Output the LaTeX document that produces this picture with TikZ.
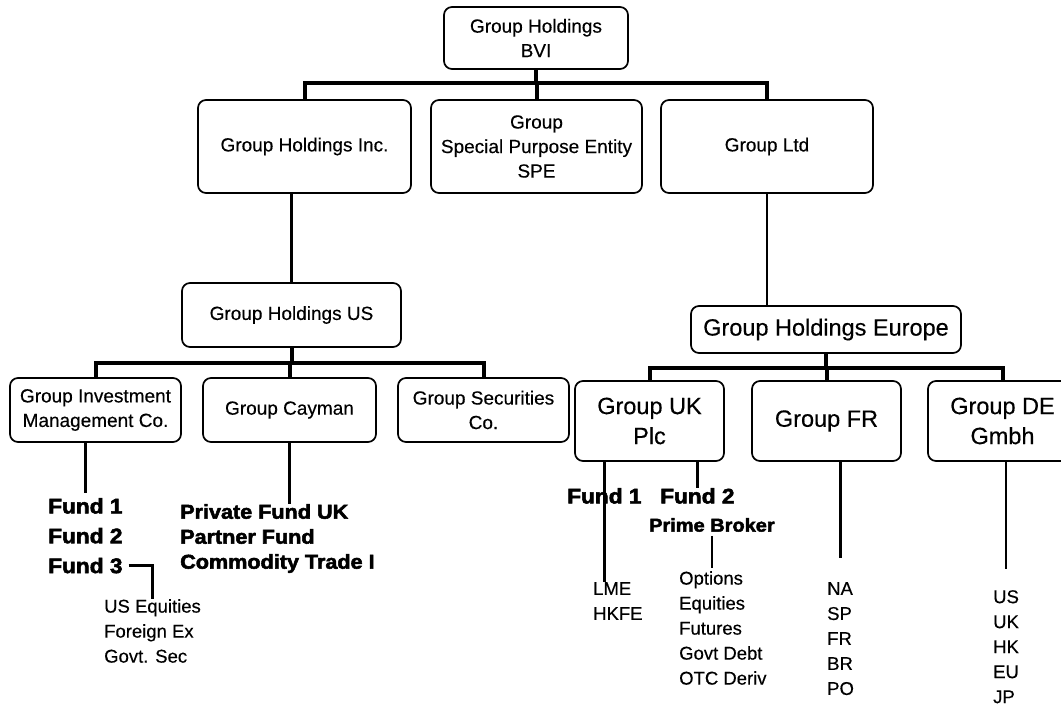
\documentclass[tikz,border=0pt]{standalone}
\usepackage{fontspec}
\setmainfont{Liberation Sans}[FakeBold=0.35]
\newfontfamily\heavyfont{Liberation Sans Bold}[FakeBold=2.6, FakeStretch=1.08]
\usetikzlibrary{positioning}
\newcommand{\setsz}[2]{\fontsize{#1}{#2}\selectfont}

\begin{document}
\begin{tikzpicture}[
  x=1pt, y=-1pt,
  ent/.style={rectangle, rounded corners=8pt, draw, line width=1.7pt,
              inner sep=0pt, outer sep=0pt, align=center,
              font=\setsz{19}{24.5}},
  bigent/.style={ent, font=\setsz{23.5}{30}},
  heavy/.style={inner sep=0pt, anchor=north west, align=left,
                font=\heavyfont\setsz{21}{29}},
  list/.style={inner sep=0pt, anchor=north west, align=left,
               font=\setsz{18.5}{25}},
  trunk/.style={line width=4pt},
  link/.style={line width=2.4pt},
]
\useasboundingbox (0,0) rectangle (1061,706);

\node[ent, minimum width=184pt, minimum height=62pt] (bvi) at (536,38)
  {Group Holdings\\BVI};

\node[ent, minimum width=213pt, minimum height=93pt] (inc) at (304.5,146.5)
  {Group Holdings Inc.};
\node[ent, minimum width=211pt, minimum height=93pt, right=20pt of inc] (spe)
  {Group\\Special Purpose Entity\\SPE};
\node[ent, minimum width=212pt, minimum height=93pt, right=19pt of spe] (ltd)
  {Group Ltd};

\node[ent, minimum width=219pt, minimum height=64pt] (hus) at (291.5,315)
  {Group Holdings US};
\node[ent, minimum width=171pt, minimum height=64pt] (gim) at (95.5,410)
  {Group Investment\\Management Co.};
\node[ent, minimum width=173pt, minimum height=64pt, right=22pt of gim] (cay)
  {Group Cayman};
\node[ent, minimum width=171pt, minimum height=64pt, right=22pt of cay] (sec)
  {Group Securities\\Co.};

\node[bigent, minimum width=270pt, minimum height=47pt] (heu) at (826,329.5)
  {Group Holdings Europe};
\node[bigent, minimum width=149pt, minimum height=80pt] (uk) at (649.5,421)
  {Group UK\\Plc};
\node[bigent, minimum width=149pt, minimum height=80pt, right=28pt of uk] (fr)
  {Group FR};
\node[bigent, minimum width=149pt, minimum height=80pt, right=27pt of fr] (de)
  {Group DE\\Gmbh};

\node[heavy] (fundA) at (48,498) {Fund 1};
\node[heavy, below=14pt of fundA.south west, anchor=north west] (fundB) {Fund 2};
\node[heavy, below=14pt of fundB.south west, anchor=north west] (fundC) {Fund 3};
\node[list] (usassets) at (104,599) {US Equities\\Foreign Ex\\Govt. Sec};
\node[heavy, font=\heavyfont\setsz{20}{25}] (privfunds) at (180,504)
  {Private Fund UK\\Partner Fund\\Commodity Trade I};

\node[heavy] (ukfundA) at (567,488) {Fund 1};
\node[heavy] (ukfundB) at (660,488) {Fund 2};
\node[heavy, font=\heavyfont\setsz{18.5}{25}] (prime) at (649,518) {Prime Broker};
\node[list] (exch) at (593,582) {LME\\HKFE};
\node[list] (options) at (679,571)
  {Options\\Equities\\Futures\\Govt Debt\\OTC Deriv};
\node[list] (regions) at (827,582) {NA\\SP\\FR\\BR\\PO};
\node[list] (markets) at (993,590) {US\\UK\\HK\\EU\\JP};

\draw[trunk] (bvi.south) -- ++(0,14) coordinate (topbar);
\draw[trunk] (inc.north) |- (topbar) -| (ltd.north);
\draw[trunk] (spe.north) -- (spe.north |- topbar);

\draw[link] (hus.north) -- (hus.north |- inc.south);
\draw[trunk] (hus.south) -- ++(0,15.5) coordinate (usbar);
\draw[trunk] (gim.north) |- (usbar) -| (sec.north);
\draw[trunk] (cay.north) -- (cay.north |- usbar);

\draw[link] (ltd.south) -- (ltd.south |- heu.north);
\draw[trunk] (heu.south) -- ++(0,14.5) coordinate (eubar);
\draw[trunk] (uk.north) |- (eubar) -| (de.north);
\draw[trunk] (fr.north) -- (fr.north |- eubar);

\draw[link, shorten >=5pt] (fundA.north |- gim.south) -- (fundA.north);
\draw[link, shorten <=6pt] (fundC.east) -| (usassets.north);
\draw[link] (cay.south) -- (cay.south |- privfunds.north);

\draw[link] (ukfundA.north |- uk.south) -- (ukfundA.north |- exch.north);
\draw[link] (ukfundB.north |- uk.south) -- (ukfundB.north);
\draw[link, shorten <=4pt, shorten >=3pt] (prime.south) -- (prime.south |- options.north);
\draw[link, shorten >=24pt] (regions.north |- fr.south) -- (regions.north);
\draw[link, shorten >=21pt] (markets.north |- de.south) -- (markets.north);

\end{tikzpicture}
\end{document}
